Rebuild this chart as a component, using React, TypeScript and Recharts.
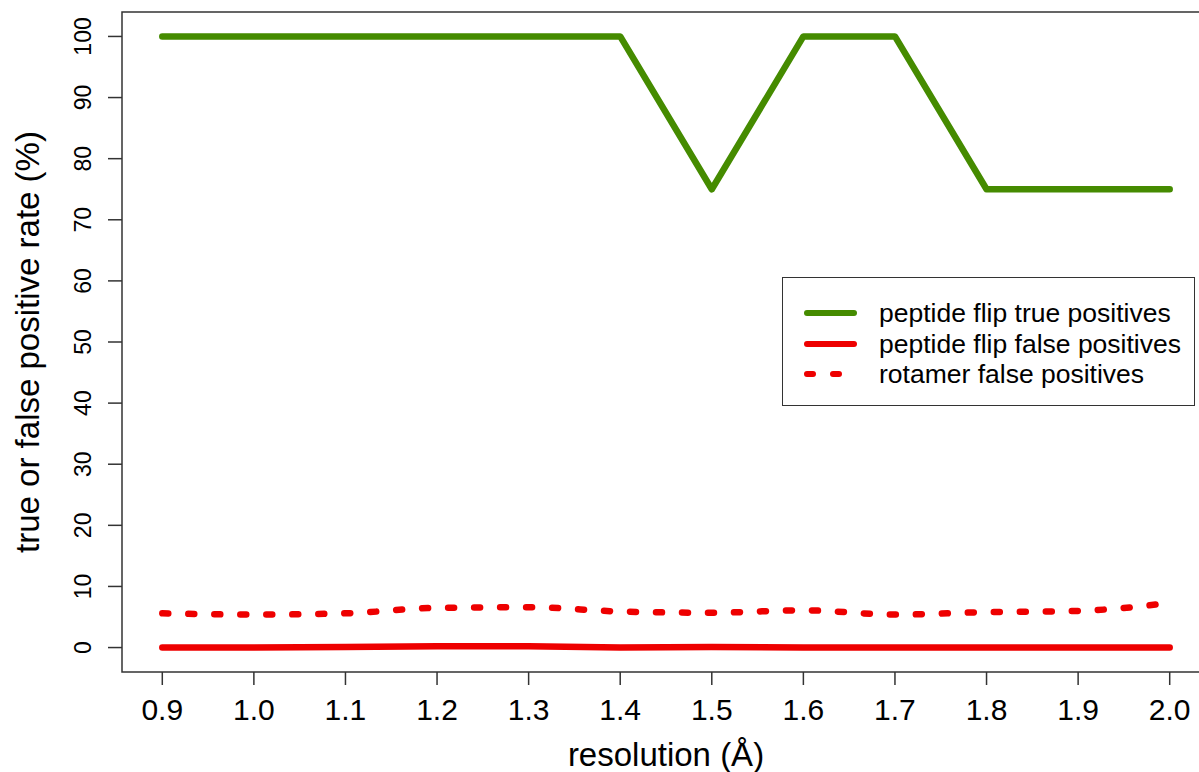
import React from "react";
import { LineChart, Line, XAxis, YAxis, Legend, ReferenceArea } from "recharts";

const resolutions = [0.9, 1.0, 1.1, 1.2, 1.3, 1.4, 1.5, 1.6, 1.7, 1.8, 1.9, 2.0];
const flipTruePositives = [100, 100, 100, 100, 100, 100, 75, 100, 100, 75, 75, 75];
const flipFalsePositives = [0, 0, 0.1, 0.2, 0.2, 0, 0.1, 0, 0, 0, 0, 0];
const rotamerFalsePositives = [5.6, 5.4, 5.6, 6.5, 6.6, 5.9, 5.7, 6.1, 5.4, 5.8, 6.0, 7.3];
const xTicks = [0.9, 1.0, 1.1, 1.2, 1.3, 1.4, 1.5, 1.6, 1.7, 1.8, 1.9, 2.0];
const yTicks = [0, 10, 20, 30, 40, 50, 60, 70, 80, 90, 100];
const seriesNames = [
  "peptide flip true positives",
  "peptide flip false positives",
  "rotamer false positives",
];

const GREEN = "#458B00";
const RED = "#EE0000";
const FONT = "'Liberation Sans', Arial, Helvetica, sans-serif";

const data = resolutions.map((r, i) => ({
  res: r,
  tp: flipTruePositives[i],
  fp: flipFalsePositives[i],
  rot: rotamerFalsePositives[i],
}));

const XTick = (props: any) => {
  const { x, payload } = props;
  return (
    <text x={x} y={720} textAnchor="middle" fontSize={30} fontFamily={FONT} fill="#000">
      {Number(payload.value).toFixed(1)}
    </text>
  );
};

const YTick = (props: any) => {
  const { y, payload } = props;
  const bx = 91;
  return (
    <text
      x={bx}
      y={y}
      transform={`rotate(-90, ${bx}, ${y})`}
      textAnchor="middle"
      fontSize={23}
      fontFamily={FONT}
      fill="#000"
    >
      {payload.value}
    </text>
  );
};

const legendItems = [
  { name: seriesNames[0], color: GREEN, dash: undefined as string | undefined },
  { name: seriesNames[1], color: RED, dash: undefined as string | undefined },
  { name: seriesNames[2], color: RED, dash: "6 20" },
];

const LegendBox = () => (
  <div
    style={{
      width: 411,
      height: 127,
      border: "1.5px solid #333",
      background: "#fff",
      position: "relative",
      fontFamily: FONT,
      boxSizing: "content-box",
    }}
  >
    {legendItems.map((it, i) => (
      <div
        key={i}
        style={{
          position: "absolute",
          left: 0,
          top: 35 + i * 30.5 - 15,
          height: 30,
          display: "flex",
          alignItems: "center",
          whiteSpace: "nowrap",
        }}
      >
        <svg width={96} height={30} style={{ display: "block" }}>
          <line
            x1={24}
            y1={15}
            x2={71}
            y2={15}
            stroke={it.color}
            strokeWidth={6}
            strokeLinecap="round"
            strokeDasharray={it.dash}
          />
        </svg>
        <span style={{ fontSize: 26.5, color: "#000", lineHeight: "30px" }}>{it.name}</span>
      </div>
    ))}
  </div>
);

export default function App() {
  return (
    <div
      style={{
        position: "absolute",
        left: 0,
        top: 0,
        width: 1199,
        height: 772,
        overflow: "hidden",
        background: "#fff",
      }}
    >
      <LineChart
        width={1230}
        height={772}
        data={data}
        margin={{ top: 12, right: 20, left: 0, bottom: 0 }}
      >
        <XAxis
          dataKey="res"
          type="number"
          domain={[0.856, 2.044]}
          ticks={xTicks}
          allowDataOverflow
          tickSize={13}
          tickLine={{ stroke: "#333", strokeWidth: 1.5 }}
          axisLine={false}
          tick={<XTick />}
          height={100}
          interval={0}
          label={(p: any) => {
            const vb = p.viewBox || {};
            const cx = (vb.x ?? 122) + (vb.width ?? 1088) / 2;
            return (
              <text x={cx} y={766} textAnchor="middle" fontSize={33} fontFamily={FONT} fill="#000">
                resolution (Å)
              </text>
            );
          }}
        />
        <YAxis
          type="number"
          domain={[-4, 104]}
          ticks={yTicks}
          allowDataOverflow
          width={122}
          tickSize={14}
          tickLine={{ stroke: "#333", strokeWidth: 1.5 }}
          axisLine={false}
          tick={<YTick />}
          interval={0}
          label={(p: any) => {
            const vb = p.viewBox || {};
            const cy = (vb.y ?? 12) + (vb.height ?? 660) / 2;
            return (
              <text
                x={39}
                y={cy}
                transform={`rotate(-90, 39, ${cy})`}
                textAnchor="middle"
                fontSize={33}
                fontFamily={FONT}
                fill="#000"
              >
                true or false positive rate (%)
              </text>
            );
          }}
        />
        <ReferenceArea
          x1={0.856}
          x2={2.044}
          y1={-4}
          y2={104}
          fill="none"
          stroke="#333"
          strokeWidth={1.5}
          ifOverflow="visible"
        />
        <Line
          dataKey="tp"
          name={seriesNames[0]}
          type="linear"
          stroke={GREEN}
          strokeWidth={6.5}
          strokeLinecap="round"
          strokeLinejoin="round"
          dot={false}
          activeDot={false}
          isAnimationActive={false}
        />
        <Line
          dataKey="fp"
          name={seriesNames[1]}
          type="linear"
          stroke={RED}
          strokeWidth={6.5}
          strokeLinecap="round"
          strokeLinejoin="round"
          dot={false}
          activeDot={false}
          isAnimationActive={false}
        />
        <Line
          dataKey="rot"
          name={seriesNames[2]}
          type="monotone"
          stroke={RED}
          strokeWidth={6.5}
          strokeLinecap="round"
          strokeDasharray="6 20"
          dot={false}
          activeDot={false}
          isAnimationActive={false}
        />
        <Legend
          layout="horizontal"
          verticalAlign="middle"
          content={<LegendBox />}
          wrapperStyle={{ position: "absolute", left: 782, top: 277, width: 414, height: 130 }}
        />
      </LineChart>
    </div>
  );
}
